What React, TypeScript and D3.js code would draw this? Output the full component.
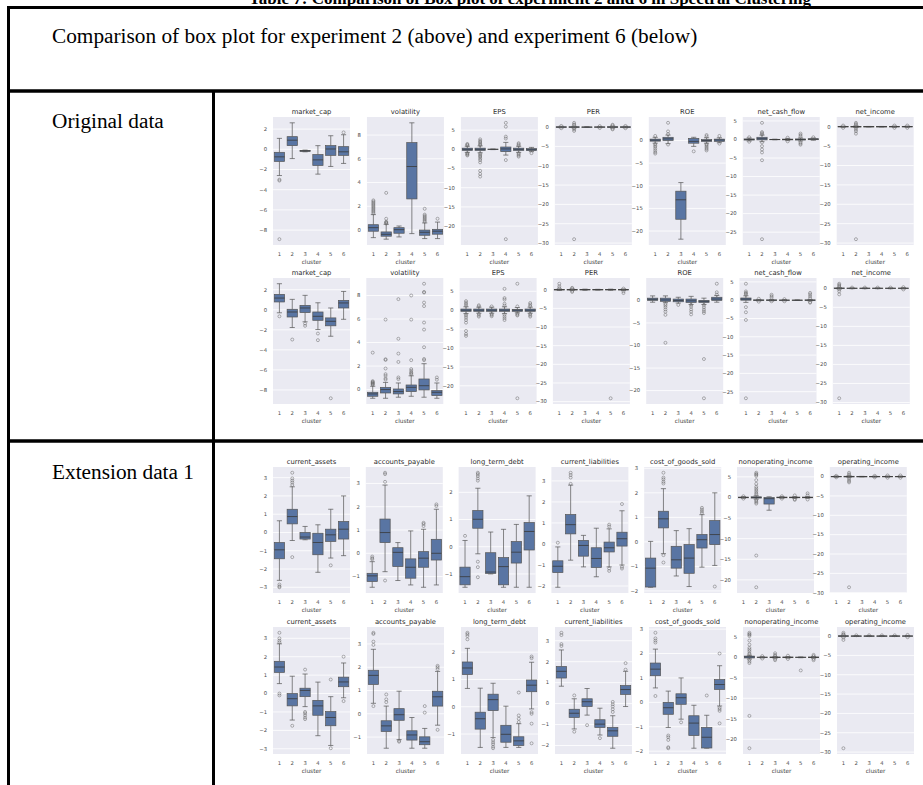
import React from "react";
import * as d3 from "d3";

// ---------- categories / ticks ----------
const CLUSTERS = ["1", "2", "3", "4", "5", "6"];
const T_MC = [-8, -6, -4, -2, 0, 2];
const T_VOL = [0, 2, 4, 6, 8];
const T_EPS = [-25, -20, -15, -10, -5, 0, 5];
const T_30 = [-30, -25, -20, -15, -10, -5, 0];
const T_ROE = [-20, -15, -10, -5, 0];
const T_NCF = [-25, -20, -15, -10, -5, 0, 5];
const T_3 = [-3, -2, -1, 0, 1, 2, 3];
const T_AP = [-1, 0, 1, 2, 3];
const T_LTD = [-1, 0, 1, 2];
const T_CL = [-2, -1, 0, 1, 2, 3];
const T_NONOP = [-20, -15, -10, -5, 0, 5];

// box stats per cluster: [whiskerLow, q1, median, q3, whiskerHigh]; outliers: [cluster, value]
// ---- Original data, experiment 2 ----
const A_market_cap_box = [[-2.6, -1.2, -0.75, -0.3, 1.08], [-0.92, 0.36, 0.9, 1.25, 2.62], [-0.25, -0.2, -0.16, -0.12, -0.08], [-2.46, -1.6, -1.05, -0.52, 0.36], [-1.7, -0.6, 0.03, 0.36, 1.34], [-1.4, -0.6, -0.25, 0.26, 1.44]];
const A_market_cap_out = [[1, -3.0], [1, -3.1], [1, -8.9], [6, 1.67]];
const A_volatility_box = [[-0.64, -0.1, 0.2, 0.45, 1.3], [-0.77, -0.52, -0.36, -0.16, 0.48], [-0.58, -0.27, 0.03, 0.2, 0.34], [-0.3, 2.62, 5.35, 7.36, 9.03], [-0.72, -0.44, -0.19, 0.0, 0.6], [-0.72, -0.35, -0.1, 0.06, 0.67]];
const A_volatility_out = [[1, 1.4], [1, 1.5], [1, 1.6], [1, 1.7], [1, 1.8], [1, 1.9], [1, 2.0], [1, 2.1], [1, 2.2], [1, 2.3], [1, 2.4], [1, 2.5], [2, 0.55], [2, 0.6], [2, 0.65], [2, 0.7], [2, 0.95], [2, 3.13], [5, 0.7], [5, 0.8], [5, 0.9], [5, 1.0], [5, 1.1], [5, 1.2], [5, 1.3], [5, 1.79], [6, 0.95]];
const A_EPS_box = [[-0.8, -0.3, 0, 0.3, 0.8], [-0.9, -0.3, 0, 0.3, 0.9], [-0.08, -0.04, 0, 0.04, 0.08], [-1.5, -0.6, 0.1, 0.6, 1.8], [-0.8, -0.3, 0, 0.3, 0.8], [-0.6, -0.3, -0.1, 0.2, 0.5]];
const A_EPS_out = [[1, 1.0], [1, 1.2], [1, 1.4], [1, -1.0], [1, -1.2], [1, -1.4], [1, -1.6], [2, 2.6], [2, 2.2], [2, 1.9], [2, 1.6], [2, 1.3], [2, 1.1], [2, -1.1], [2, -1.4], [2, -1.7], [2, -2.0], [2, -2.4], [2, -2.8], [2, -3.4], [2, -5.6], [2, -6.4], [2, -7.1], [4, 6.9], [4, 5.9], [4, 3.3], [4, 2.8], [4, -2.8], [4, -23.4], [5, 1.6], [5, 1.3], [5, 1.0], [5, -1.0], [5, -1.3], [5, -1.6], [5, -1.9], [6, -1.0]];
const A_PER_box = [[-0.2, -0.08, 0, 0.08, 0.2], [-0.2, -0.08, 0, 0.08, 0.2], [-0.06, -0.03, 0, 0.03, 0.06], [-0.15, -0.05, 0, 0.05, 0.15], [-0.25, -0.1, 0, 0.1, 0.25], [-0.2, -0.08, 0, 0.08, 0.2]];
const A_PER_out = [[1, 0.3], [1, -0.3], [2, 1.1], [2, 0.7], [2, 0.5], [2, -0.3], [2, -0.6], [2, -1.0], [2, -29.0], [4, 0.25], [4, -0.25], [5, 0.6], [5, 0.4], [5, -0.4], [5, -0.6], [6, 0.3], [6, -0.3]];
const A_ROE_box = [[-0.6, -0.15, 0.07, 0.3, 0.7], [-0.7, 0, 0.35, 0.7, 1.2], [-21.8, -17.4, -13.1, -11.2, -9.3], [-1.3, -0.6, -0.2, 0.45, 0.7], [-0.6, -0.2, 0, 0.2, 0.6], [-0.5, -0.2, 0.1, 0.3, 0.6]];
const A_ROE_out = [[1, 1.0], [1, -0.8], [1, -1.1], [1, -1.4], [1, -1.8], [1, -2.2], [1, -2.6], [1, -2.9], [2, 3.9], [2, 2.0], [2, 1.4], [2, -0.9], [4, -2.4], [5, 1.2], [5, 0.9], [5, -0.8], [5, -1.0], [5, -1.3], [5, -1.6], [5, -1.9], [5, -2.2], [6, 1.0], [6, -0.7]];
const A_NCF_box = [[-0.4, -0.15, 0, 0.15, 0.4], [-0.6, -0.1, 0.2, 0.6, 1.2], [-0.08, -0.04, 0, 0.04, 0.08], [-0.3, -0.1, 0, 0.1, 0.3], [-0.4, -0.15, 0, 0.15, 0.4], [-0.2, -0.05, 0.1, 0.2, 0.4]];
const A_NCF_out = [[1, 0.6], [1, -0.6], [2, 4.5], [2, 2.0], [2, 1.7], [2, 1.4], [2, -0.8], [2, -1.8], [2, -2.7], [2, -3.5], [2, -5.6], [2, -26.9], [4, 0.5], [4, -0.5], [5, 1.6], [5, 1.2], [5, 0.8], [5, -0.8], [5, -1.1], [5, -1.4], [6, 0.6]];
const A_NI_box = [[-0.15, -0.05, 0, 0.05, 0.15], [-0.2, -0.08, 0, 0.08, 0.2], [-0.06, -0.03, 0, 0.03, 0.06], [-0.06, -0.03, 0, 0.03, 0.06], [-0.15, -0.05, 0, 0.05, 0.15], [-0.15, -0.05, 0, 0.05, 0.15]];
const A_NI_out = [[1, 0.3], [1, -0.3], [2, 1.0], [2, 0.7], [2, 0.4], [2, -0.4], [2, -0.8], [2, -1.2], [2, -1.8], [2, -29.0], [5, 0.3], [5, -0.3], [6, 0.3], [6, -0.3]];

// ---- Original data, experiment 6 ----
const B_market_cap_box = [[-0.3, 0.78, 1.17, 1.54, 2.6], [-1.77, -0.72, -0.22, 0.05, 1.04], [-1.2, -0.28, 0.18, 0.44, 1.44], [-1.97, -1.05, -0.65, -0.22, 0.7], [-2.64, -1.6, -1.15, -0.81, 0.18], [-0.95, 0.18, 0.68, 0.94, 1.83]];
const B_market_cap_out = [[1, -0.65], [2, -2.97], [3, -1.38], [3, -1.6], [4, -2.37], [4, -3.03], [5, -8.83]];
const B_volatility_box = [[-0.74, -0.57, -0.37, -0.23, 0.28], [-0.74, -0.29, 0, 0.19, 0.61], [-0.65, -0.37, -0.17, 0.05, 0.56], [-0.57, -0.17, 0.19, 0.39, 1.17], [-0.65, -0.03, 0.33, 0.9, 2.2], [-0.74, -0.51, -0.23, -0.09, 0.56]];
const B_volatility_out = [[1, 0.39], [1, 0.45], [1, 0.5], [1, 0.55], [1, 0.6], [1, 0.65], [1, 0.72], [1, 3.14], [2, 0.84], [2, 0.95], [2, 1.17], [2, 1.31], [2, 1.79], [2, 2.52], [2, 2.58], [2, 5.95], [3, 0.89], [3, 1.03], [3, 2.35], [3, 3.06], [3, 4.32], [3, 7.69], [4, 1.3], [4, 1.38], [4, 1.46], [4, 1.6], [4, 1.74], [4, 2.5], [4, 5.95], [4, 8.0], [5, 2.5], [5, 2.6], [5, 3.6], [5, 5.1], [5, 5.7], [5, 7.1], [5, 7.4], [5, 8.25], [5, 8.3], [5, 9.0], [6, 0.84], [6, 1.03]];
const B_EPS_box = [[-0.9, -0.3, 0, 0.3, 0.9], [-0.8, -0.3, 0, 0.3, 0.8], [-0.8, -0.3, 0, 0.3, 0.8], [-0.9, -0.3, 0, 0.3, 0.9], [-0.7, -0.3, 0, 0.2, 0.7], [-0.8, -0.3, 0, 0.3, 0.8]];
const B_EPS_out = [[1, 2.4], [1, 2.0], [1, 1.6], [1, 1.2], [1, -1.1], [1, -1.5], [1, -2.0], [1, -2.6], [1, -3.3], [1, -5.5], [1, -6.3], [1, -6.8], [2, 1.3], [2, 1.0], [2, -1.0], [2, -1.4], [2, -1.7], [3, 1.0], [3, -1.0], [3, -1.3], [3, -1.6], [4, 5.65], [4, 3.2], [4, 2.8], [4, 1.7], [4, 1.2], [4, -1.1], [4, -1.6], [4, -2.1], [4, -2.6], [5, 7.0], [5, 1.0], [5, -0.9], [5, -1.2], [5, -1.4], [5, -23.3], [6, 1.9], [6, 1.5], [6, 1.1], [6, -1.0], [6, -1.4], [6, -1.7]];
const B_PER_box = [[-0.2, -0.08, 0, 0.08, 0.2], [-0.2, -0.08, 0, 0.08, 0.2], [-0.15, -0.05, 0, 0.05, 0.15], [-0.1, -0.04, 0, 0.04, 0.1], [-0.15, -0.05, 0, 0.05, 0.15], [-0.2, -0.08, 0, 0.08, 0.2]];
const B_PER_out = [[1, 1.6], [1, 0.9], [1, 0.4], [2, 0.5], [2, 0.3], [2, -0.3], [2, -0.6], [5, -29.1], [6, 0.3], [6, -0.4], [6, -0.9]];
const B_ROE_box = [[-0.4, 0, 0.25, 0.5, 1.0], [-0.5, -0.2, 0.1, 0.5, 1.0], [-0.6, -0.3, 0, 0.3, 0.7], [-0.9, -0.45, -0.1, 0.3, 0.9], [-0.9, -0.45, -0.2, 0, 0.5], [-0.4, 0, 0.3, 0.7, 1.1]];
const B_ROE_out = [[2, -0.8], [2, -1.1], [2, -1.5], [2, -2.0], [2, -2.5], [2, -3.2], [2, -9.4], [3, -1.0], [4, -1.0], [4, -1.4], [4, -2.0], [4, -2.5], [4, -3.1], [5, -1.0], [5, -1.5], [5, -2.0], [5, -2.4], [5, -2.8], [5, -13.0], [5, -21.7], [6, 3.7], [6, 1.8], [6, 1.3]];
const B_NCF_box = [[-0.6, 0, 0.3, 0.6, 1.2], [-0.2, -0.08, 0, 0.08, 0.2], [-0.2, -0.08, 0, 0.08, 0.2], [-0.15, -0.05, 0, 0.05, 0.15], [-0.08, -0.03, 0, 0.03, 0.08], [-0.2, -0.08, 0, 0.08, 0.2]];
const B_NCF_out = [[1, 4.5], [1, 2.4], [1, 2.0], [1, 1.8], [1, 1.5], [1, -1.9], [1, -3.3], [1, -5.4], [1, -26.8], [2, 0.4], [2, -0.4], [3, 1.5], [3, 1.1], [3, 0.7], [3, -0.3], [4, 0.3], [4, -0.3], [6, 2.0], [6, 1.6], [6, 1.1], [6, 0.6], [6, -0.5], [6, -0.7]];
const B_NI_box = [[-0.2, -0.08, 0, 0.08, 0.2], [-0.1, -0.04, 0, 0.04, 0.1], [-0.1, -0.04, 0, 0.04, 0.1], [-0.1, -0.04, 0, 0.04, 0.1], [-0.1, -0.04, 0, 0.04, 0.1], [-0.15, -0.05, 0, 0.05, 0.15]];
const B_NI_out = [[1, 1.2], [1, 0.9], [1, 0.6], [1, 0.3], [1, -0.3], [1, -0.8], [1, -1.6], [1, -28.9], [2, 0.2], [3, 0.2], [4, 0.2], [5, 0.2], [6, 0.3], [6, -0.3]];

// ---- Extension data 1, experiment 2 ----
const C_current_assets_box = [[-2.62, -1.44, -0.95, -0.55, 0.64], [-0.44, 0.47, 0.87, 1.27, 2.5], [-0.4, -0.36, -0.25, 0.0, 0.33], [-2.18, -1.22, -0.55, -0.04, 0.42], [-1.4, -0.49, -0.13, 0.18, 1.27], [-1.27, -0.36, 0.18, 0.6, 2.0]];
const C_current_assets_out = [[1, -2.85], [1, -2.95], [1, -3.0], [2, 2.6], [2, 2.73], [2, 2.84], [2, 2.96], [2, 3.27], [2, -1.35], [5, -1.8]];
const C_accounts_payable_box = [[-1.46, -1.21, -0.97, -0.86, -0.36], [-0.79, 0.46, 0.89, 1.47, 2.93], [-1.17, -0.57, 0.04, 0.24, 0.46], [-1.36, -1.07, -0.6, -0.24, 0.96], [-1.46, -0.6, -0.21, 0.07, 1.03], [-1.36, -0.29, 0, 0.6, 1.89]];
const C_accounts_payable_out = [[1, -0.14], [1, -0.21], [1, -0.26], [2, 3.07], [2, 3.4], [2, 3.46], [2, -1.17], [5, 1.17], [5, 1.26], [5, 1.31], [6, 2.03], [6, 2.1]];
const C_long_term_debt_box = [[-1.49, -1.4, -1.1, -0.75, 0.23], [-0.26, 0.68, 1.01, 1.33, 2.15], [-1.0, -0.98, -0.93, -0.22, 0.54], [-1.49, -1.4, -0.73, -0.4, 0.64], [-1.49, -0.6, -0.2, 0.19, 0.82], [-1.49, -0.12, 0.56, 0.89, 1.87]];
const C_long_term_debt_out = [[1, 0.4], [2, 2.43], [2, 2.51], [2, 2.6], [2, 2.67], [2, 2.72], [2, -0.55], [2, -0.75], [2, -1.12]];
const C_current_liabilities_box = [[-2.06, -1.36, -1.06, -0.8, -0.14], [-0.77, 0.48, 0.92, 1.4, 2.8], [-1.09, -0.58, -0.07, 0.17, 0.41], [-1.56, -1.12, -0.69, -0.18, 0.75], [-1.09, -0.38, -0.18, 0.09, 0.72], [-1.0, -0.1, 0.25, 0.56, 1.58]];
const C_current_liabilities_out = [[1, 0.06], [2, 2.86], [2, 3.16], [2, 3.28], [2, 3.39], [5, 0.83], [5, 0.92], [5, -1.17], [5, -1.28], [6, 1.9], [6, -1.09], [6, -1.17]];
const C_cogs_box = [[-1.85, -1.84, -1.07, -0.66, 0.02], [-0.48, 0.57, 0.94, 1.25, 2.17], [-1.39, -1.07, -0.73, -0.18, 0.46], [-1.82, -1.28, -0.66, -0.11, 0.54], [-1.03, -0.25, 0.09, 0.3, 1.11], [-0.96, -0.11, 0.3, 0.87, 2.0]];
const C_cogs_out = [[2, 2.38], [2, 2.45], [2, 2.55], [2, 2.62], [2, 2.82], [2, -0.54], [2, -0.84], [5, 1.18], [5, 1.25], [5, 1.32], [5, 1.39], [6, -1.82]];
const C_nonop_box = [[-0.2, -0.08, 0, 0.08, 0.2], [-0.4, -0.15, 0, 0.15, 0.4], [-3.1, -1.6, -0.3, 0.0, 0.16], [-0.2, -0.08, 0, 0.08, 0.2], [-0.2, -0.08, 0, 0.08, 0.2], [-0.2, -0.08, 0, 0.08, 0.2]];
const C_nonop_out = [[1, 0.3], [1, -0.3], [2, 6.0], [2, 5.7], [2, 5.5], [2, 5.2], [2, 4.2], [2, 3.3], [2, 2.6], [2, 2.2], [2, 1.8], [2, 1.4], [2, 1.0], [2, 0.7], [2, -0.6], [2, -0.9], [2, -1.2], [2, -1.5], [2, -14.1], [2, -21.8], [4, 0.3], [4, -0.3], [5, 0.5], [5, -0.4], [5, -0.6], [6, 1.0], [6, 0.5], [6, -0.5]];
const C_opinc_box = [[-0.15, -0.05, 0, 0.05, 0.15], [-0.2, -0.08, 0, 0.08, 0.2], [-0.06, -0.03, 0, 0.03, 0.06], [-0.1, -0.04, 0, 0.04, 0.1], [-0.15, -0.05, 0, 0.05, 0.15], [-0.15, -0.05, 0, 0.05, 0.15]];
const C_opinc_out = [[1, 0.2], [1, -0.2], [2, 1.0], [2, 0.6], [2, 0.3], [2, -0.4], [2, -0.8], [2, -1.2], [2, -1.5], [2, -28.6], [4, 0.2], [4, -0.2], [5, 0.3], [5, -0.3], [6, 0.3], [6, -0.3]];

// ---- Extension data 1, experiment 6 ----
const D_current_assets_box = [[0.54, 1.15, 1.44, 1.75, 2.7], [-1.44, -0.67, -0.28, 0.0, 0.94], [-0.71, -0.17, 0.17, 0.29, 1.06], [-2.29, -1.18, -0.67, -0.37, 0.62], [-2.82, -1.75, -1.3, -0.98, -0.17], [-0.23, 0.37, 0.63, 0.89, 1.66]];
const D_current_assets_out = [[1, 2.78], [1, 2.87], [1, 3.0], [1, 3.3], [1, 0.0], [1, -0.1], [2, -1.75], [3, 1.3], [3, -1.0], [3, -1.07], [3, -1.18], [3, -1.3], [3, -1.39], [5, 0.76], [5, -2.97], [6, 2.0], [6, -0.41]];
const D_accounts_payable_box = [[0.45, 1.26, 1.65, 1.87, 2.77], [-1.48, -0.76, -0.52, -0.3, 0.33], [-1.11, -0.28, -0.04, 0.22, 0.97], [-1.48, -1.13, -0.91, -0.73, -0.16], [-1.48, -1.33, -1.2, -0.99, -0.63], [-0.49, 0.33, 0.73, 0.97, 1.82]];
const D_accounts_payable_out = [[1, 2.96], [1, 3.1], [1, 3.43], [1, 3.48], [1, 0.33], [2, 0.5], [2, 0.62], [2, 0.83], [3, -1.16], [3, -1.2], [5, 0.05], [5, 0.33], [6, 1.92], [6, 2.0], [6, 2.06], [6, -0.69]];
const D_long_term_debt_box = [[0.67, 1.18, 1.42, 1.64, 2.14], [-1.49, -0.82, -0.44, -0.2, 0.68], [-1.13, -0.14, 0.26, 0.46, 0.86], [-1.49, -1.3, -1.01, -0.68, 0.02], [-1.49, -1.42, -1.25, -1.1, -0.62], [-0.08, 0.55, 0.79, 0.98, 1.63]];
const D_long_term_debt_out = [[1, 2.47], [1, 2.59], [1, 2.66], [1, 2.71], [3, -1.22], [3, -1.3], [3, -1.37], [3, -1.46], [3, -1.52], [5, 0.52], [5, -0.32], [5, -0.44], [5, -0.56], [6, 1.78], [6, 1.84], [6, -0.2], [6, -0.26], [6, -0.62], [6, -1.34]];
const D_current_liabilities_box = [[0.83, 1.22, 1.54, 1.77, 2.56], [-1.21, -0.66, -0.46, -0.27, 0.23], [-0.55, -0.14, 0.09, 0.23, 0.72], [-1.5, -1.14, -0.98, -0.77, -0.22], [-2.13, -1.56, -1.3, -1.14, -0.58], [-0.14, 0.44, 0.67, 0.86, 1.54]];
const D_current_liabilities_out = [[1, 2.75], [1, 2.84], [1, 3.27], [1, 3.38], [2, 0.39], [2, -1.34], [3, -1.03], [4, -1.65], [5, 0.08], [5, -0.03], [5, -0.14], [5, -0.27], [5, -0.4], [6, 1.93], [6, 1.62]];
const D_cogs_box = [[0.59, 1.09, 1.36, 1.61, 2.18], [-1.03, -0.49, -0.22, 0.0, 0.46], [-0.69, -0.08, 0.19, 0.35, 1.0], [-1.88, -1.36, -0.85, -0.55, -0.12], [-1.88, -1.87, -1.43, -1.03, -0.53], [-0.15, 0.53, 0.73, 0.93, 1.5]];
const D_cogs_out = [[1, 2.45], [1, 2.53], [1, 2.62], [1, 2.85], [1, 0.26], [2, -1.36], [2, -1.43], [2, -1.54], [2, -1.84], [2, -1.88], [3, -0.82], [5, 0.28], [6, 2.0], [6, -0.22], [6, -0.28], [6, -0.35], [6, -0.86]];
const D_nonop_box = [[-0.4, -0.15, 0.1, 0.3, 0.5], [-0.15, -0.05, 0, 0.05, 0.15], [-0.2, -0.08, 0, 0.08, 0.2], [-0.2, -0.08, 0, 0.08, 0.2], [-0.1, -0.04, 0, 0.04, 0.1], [-0.2, -0.08, 0, 0.08, 0.2]];
const D_nonop_out = [[1, 6.0], [1, 5.7], [1, 5.5], [1, 5.2], [1, 4.1], [1, 3.1], [1, 2.3], [1, 1.9], [1, 1.5], [1, 1.0], [1, 0.7], [1, -0.6], [1, -1.0], [1, -1.4], [1, -14.3], [1, -22.2], [2, 0.3], [2, -0.3], [3, 1.0], [3, 0.6], [3, 0.3], [3, -0.4], [3, -0.7], [4, 0.4], [4, -0.4], [5, -3.2], [6, 0.6], [6, 0.3], [6, -0.4], [6, -0.7]];
const D_opinc_box = [[-0.2, -0.08, 0, 0.08, 0.2], [-0.1, -0.04, 0, 0.04, 0.1], [-0.1, -0.04, 0, 0.04, 0.1], [-0.1, -0.04, 0, 0.04, 0.1], [-0.1, -0.04, 0, 0.04, 0.1], [-0.15, -0.05, 0, 0.05, 0.15]];
const D_opinc_out = [[1, 0.85], [1, 0.5], [1, 0.3], [1, -0.4], [1, -1.0], [1, -29.0], [2, 0.2], [3, 0.2], [4, 0.2], [5, 0.2], [6, 0.3], [6, -0.3]];

// ---------- panel tables built from the arrays ----------
const ORIG_TITLES = ["market_cap", "volatility", "EPS", "PER", "ROE", "net_cash_flow", "net_income"];
const EXT_TITLES = ["current_assets", "accounts_payable", "long_term_debt", "current_liabilities", "cost_of_goods_sold", "nonoperating_income", "operating_income"];
const ORIG_TICKS = [T_MC, T_VOL, T_EPS, T_30, T_ROE, T_NCF, T_30];
const EXT_TICKS = [T_3, T_AP, T_LTD, T_CL, T_CL, T_NONOP, T_30];
const ROW_A = [[A_market_cap_box, A_market_cap_out], [A_volatility_box, A_volatility_out], [A_EPS_box, A_EPS_out], [A_PER_box, A_PER_out], [A_ROE_box, A_ROE_out], [A_NCF_box, A_NCF_out], [A_NI_box, A_NI_out]];
const ROW_B = [[B_market_cap_box, B_market_cap_out], [B_volatility_box, B_volatility_out], [B_EPS_box, B_EPS_out], [B_PER_box, B_PER_out], [B_ROE_box, B_ROE_out], [B_NCF_box, B_NCF_out], [B_NI_box, B_NI_out]];
const ROW_C = [[C_current_assets_box, C_current_assets_out], [C_accounts_payable_box, C_accounts_payable_out], [C_long_term_debt_box, C_long_term_debt_out], [C_current_liabilities_box, C_current_liabilities_out], [C_cogs_box, C_cogs_out], [C_nonop_box, C_nonop_out], [C_opinc_box, C_opinc_out]];
const ROW_D = [[D_current_assets_box, D_current_assets_out], [D_accounts_payable_box, D_accounts_payable_out], [D_long_term_debt_box, D_long_term_debt_out], [D_current_liabilities_box, D_current_liabilities_out], [D_cogs_box, D_cogs_out], [D_nonop_box, D_nonop_out], [D_opinc_box, D_opinc_out]];

const FONT = "DejaVu Sans, sans-serif";
const SERIF = "Liberation Serif, Times New Roman, serif";
const BOX_FILL = "#5975A3";
const LINE = "#555";
const fmt = (v: number) => (v < 0 ? "\u2212" + Math.abs(v) : String(v));

function Panel({ x, y, w, h, title, ticks, box, out }: any) {
  const vals = (box as number[][]).flat().concat((out as number[][]).map((o) => o[1]));
  const lo = d3.min(vals) as number;
  const hi = d3.max(vals) as number;
  const pad = (hi - lo) * 0.05;
  const ys = d3.scaleLinear().domain([lo - pad, hi + pad]).range([h, 0]);
  const xs = d3.scaleBand().domain(CLUSTERS).range([0, w]).padding(0);
  const bw = xs.bandwidth() * 0.8;
  const cx = (i: number) => (xs(CLUSTERS[i]) as number) + xs.bandwidth() / 2;
  const visTicks = (ticks as number[]).filter((t) => t >= lo - pad && t <= hi + pad);
  return (
    <g transform={`translate(${x},${y})`}>
      <rect x={0} y={0} width={w} height={h} fill="#EAEAF2" />
      {visTicks.map((t) => (
        <g key={t}>
          <line x1={0} x2={w} y1={ys(t)} y2={ys(t)} stroke="#fff" strokeWidth={0.8} />
          <text x={-6} y={ys(t)} dy="0.35em" textAnchor="end" fontSize={5.3} fill="#4a4a4a" fontFamily={FONT}>{fmt(t)}</text>
        </g>
      ))}
      {(box as number[][]).map((b, i) => {
        const c = cx(i);
        const [wl, q1, md, q3, wh] = b;
        return (
          <g key={i}>
            <line x1={c} x2={c} y1={ys(wh)} y2={ys(q3)} stroke={LINE} strokeWidth={0.7} />
            <line x1={c} x2={c} y1={ys(q1)} y2={ys(wl)} stroke={LINE} strokeWidth={0.7} />
            <line x1={c - bw / 4} x2={c + bw / 4} y1={ys(wh)} y2={ys(wh)} stroke={LINE} strokeWidth={0.7} />
            <line x1={c - bw / 4} x2={c + bw / 4} y1={ys(wl)} y2={ys(wl)} stroke={LINE} strokeWidth={0.7} />
            <rect x={c - bw / 2} y={ys(q3)} width={bw} height={Math.max(0.4, ys(q1) - ys(q3))} fill={BOX_FILL} stroke={LINE} strokeWidth={0.7} />
            <line x1={c - bw / 2} x2={c + bw / 2} y1={ys(md)} y2={ys(md)} stroke="#3a3a3a" strokeWidth={0.8} />
          </g>
        );
      })}
      {(out as number[][]).map((o, k) => (
        <circle key={k} cx={cx(o[0] - 1)} cy={ys(o[1])} r={1.5} fill="none" stroke="#666" strokeWidth={0.5} />
      ))}
      {CLUSTERS.map((c, i) => (
        <text key={c} x={cx(i)} y={h + 9} dy="0.35em" textAnchor="middle" fontSize={5.3} fill="#4a4a4a" fontFamily={FONT}>{c}</text>
      ))}
      <text x={w / 2} y={h + 16.5} dy="0.35em" textAnchor="middle" fontSize={5.8} fill="#3a3a3a" fontFamily={FONT}>cluster</text>
      <text x={w / 2} y={-3} textAnchor="middle" fontSize={6.8} fill="#2a2a2a" fontFamily={FONT}>{title}</text>
    </g>
  );
}

const ROWS_LAYOUT = [
  { rows: ROW_A, titles: ORIG_TITLES, ticks: ORIG_TICKS, top: 117, h: 128, x0: 273, step: 93.95 },
  { rows: ROW_B, titles: ORIG_TITLES, ticks: ORIG_TICKS, top: 278, h: 126, x0: 273, step: 93.3 },
  { rows: ROW_C, titles: EXT_TITLES, ticks: EXT_TICKS, top: 467, h: 126, x0: 273, step: 92.8 },
  { rows: ROW_D, titles: EXT_TITLES, ticks: EXT_TICKS, top: 627, h: 127, x0: 273, step: 94 },
];

export default function App() {
  return (
    <svg width={923} height={785} style={{ position: "absolute", left: 0, top: 0, background: "#fff" }}>
      <text x={530} y={3.5} textAnchor="middle" fontSize={17} fontWeight="bold" fontFamily={SERIF} fill="#000">
        Table 7: Comparison of Box plot of experiment 2 and 6 in Spectral Clustering
      </text>
      {/* table lines */}
      <line x1={7} x2={930} y1={7.5} y2={7.5} stroke="#000" strokeWidth={3} />
      <line x1={8.5} x2={8.5} y1={6} y2={790} stroke="#000" strokeWidth={3} />
      <line x1={7} x2={930} y1={91} y2={91} stroke="#000" strokeWidth={3.5} />
      <line x1={213.5} x2={213.5} y1={91} y2={790} stroke="#000" strokeWidth={3} />
      <line x1={7} x2={930} y1={441} y2={441} stroke="#000" strokeWidth={3.5} />
      <text x={52} y={42.5} fontSize={21.3} fontFamily={SERIF} fill="#000">
        Comparison of box plot for experiment 2 (above) and experiment 6 (below)
      </text>
      <text x={52} y={127.5} fontSize={21.3} fontFamily={SERIF} fill="#000">Original data</text>
      <text x={52} y={478.5} fontSize={21.3} fontFamily={SERIF} fill="#000">Extension data 1</text>
      {ROWS_LAYOUT.map((r, ri) =>
        r.rows.map((p, pi) => (
          <Panel key={`${ri}-${pi}`} x={r.x0 + pi * r.step} y={r.top} w={77} h={r.h} title={r.titles[pi]} ticks={r.ticks[pi]} box={p[0]} out={p[1]} />
        ))
      )}
    </svg>
  );
}
